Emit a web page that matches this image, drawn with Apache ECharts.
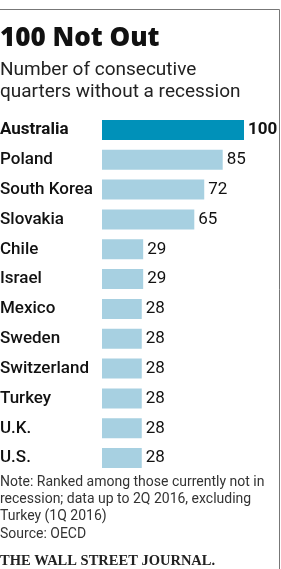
<!DOCTYPE html>
<html><head><meta charset="utf-8">
<script src="https://cdn.jsdelivr.net/npm/echarts@6/dist/echarts.min.js"></script>
<style>html,body{margin:0;padding:0;background:#fff}#c{width:281px;height:569px}</style>
</head><body><div id="c"></div>
<script>
const categories = ['Australia','Poland','South Korea','Slovakia','Chile','Israel','Mexico','Sweden','Switzerland','Turkey','U.K.','U.S.'];
const values = [100,85,72,65,29,29,28,28,28,28,28,28];
const highlight = 'Australia';
const titleText = '100 Not Out';
const subtitleLines = ['Number of consecutive','quarters without a recession'];
const noteLines = ['Note: Ranked among those currently not in','recession; data up to 2Q 2016, excluding','Turkey (1Q 2016)','Source: OECD'];
const logoText = 'THE WALL STREET JOURNAL.';

const F = 'Roboto';
const chart = echarts.init(document.getElementById('c'), null, {renderer:'canvas'});
const data = values.map((v,i)=>{
  const hi = categories[i]===highlight;
  return {value:v, itemStyle:{color: hi ? '#0091b9' : '#a7d0e1'},
    label:{fontWeight: hi ? 'bold' : 'normal'}};
});
const graphics = [
  {type:'line', shape:{x1:0,y1:9.5,x2:279.5,y2:9.5}, style:{stroke:'#777',lineWidth:1}},
  {type:'line', shape:{x1:279.5,y1:9.5,x2:279.5,y2:569}, style:{stroke:'#777',lineWidth:1}},
  {type:'text', left:0, top:26, style:{text:titleText, font:'800 26px "Open Sans"', fill:'#111'}},
];
subtitleLines.forEach((t,i)=>graphics.push({type:'text', left:0, top:61+i*22, style:{text:t, font:'19px '+F, fill:'#222'}}));
noteLines.forEach((t,i)=>graphics.push({type:'text', left:0, top:475+i*17.4, style:{text:t, font:'14px '+F, fill:'#333'}}));
graphics.push({type:'text', left:0, top:554, style:{text:logoText, font:'bold 14.5px "Liberation Serif"', fill:'#222'}});

chart.setOption({
  animation:false,
  grid:{left:102, top:115, width:142, height:358, containLabel:false, outerBoundsMode:'none'},
  xAxis:{type:'value', min:0, max:100, show:false},
  yAxis:{type:'category', data:categories, inverse:true,
    axisLine:{show:false}, axisTick:{show:false},
    axisLabel:{align:'left', margin:102, fontFamily:F, fontSize:17, fontWeight:500, color:'#111',
      formatter:(v)=> v===highlight ? '{b|'+v+'}' : v,
      rich:{b:{fontFamily:F, fontSize:17, fontWeight:'bold', color:'#111'}}}},
  series:[{type:'bar', data:data, barWidth:20,
    label:{show:true, position:'right', distance:4, fontFamily:F, fontSize:17, color:'#111'}}],
  graphic:graphics
});
</script></body></html>
